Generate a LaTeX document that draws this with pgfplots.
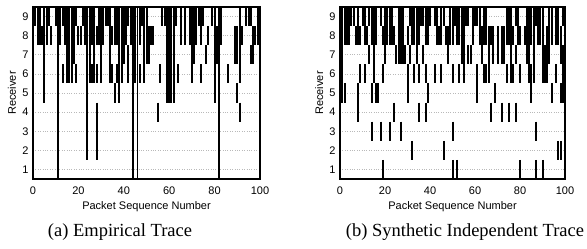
\documentclass[border=0pt]{standalone}
\usepackage{fontspec}
\setmainfont{Liberation Serif}
\newfontfamily\hv{Liberation Sans}
\usepackage{pgfplots}
\pgfplotsset{compat=1.18}
\begin{document}
\begin{tikzpicture}
\pgfplotsset{
  rast/.style={
    scale only axis, height=172pt,
    xmin=0, xmax=100, ymin=0.5, ymax=9.5,
    xtick={0,20,...,100}, ytick={1,...,9},
    ymajorgrids, grid style={dotted, gray!55, line width=0.7pt},
    major tick length=0pt,
    clip mode=individual,
    tick label style={font=\hv\fontsize{11}{12}\selectfont},
    /pgf/number format/assume math mode=true,
    label style={font=\hv\fontsize{11}{12}\selectfont},
    xlabel={Packet Sequence Number}, ylabel={Receiver},
    xlabel style={at={(axis description cs:0.5,-0.16)}, anchor=center},
    ylabel style={at={(axis description cs:-0.0925,0.5)}, anchor=center},
    xticklabel style={yshift=-4pt}, yticklabel style={xshift=-1pt},
  },
  lb/.style={only marks, mark=|, mark size=9.56pt, mark options={black, line width=2.0pt}},
  fl/.style={only marks, mark=|, mark size=86pt, mark options={black, line width=1.6pt}},
}
\path[use as bounding box] (0,0) rectangle (587pt,249pt);

% (a) Empirical trace
\begin{axis}[rast, width=227pt, at={(33pt,70pt)}, anchor=south west]
\addplot[lb] coordinates {(1,9)(2,9)(3,9)(5,9)(6,9)(7,9)(10,9)(12,9)(13,9)(14,9)(15,9)(16,9)(17,9)(18,9)(19,9)(22,9)(23,9)(24,9)(25,9)(26,9)(27,9)(29,9)(30,9)(31,9)(32,9)(33,9)(34,9)(36,9)(37,9)(38,9)(39,9)(40,9)(41,9)(42,9)(43,9)(45,9)(47,9)(48,9)(49,9)(50,9)(57,9)(58,9)(59,9)(60,9)(61,9)(62,9)(63,9)(65,9)(67,9)(69,9)(70,9)(71,9)(72,9)(73,9)(74,9)(75,9)(79,9)(80,9)(83,9)(91,9)(94,9)(95,9)(96,9)(99,9)};
\addplot[lb] coordinates {(2,8)(3,8)(4,8)(5,8)(6,8)(8,8)(12,8)(14,8)(15,8)(16,8)(17,8)(18,8)(20,8)(21,8)(23,8)(24,8)(25,8)(26,8)(27,8)(28,8)(29,8)(30,8)(31,8)(34,8)(35,8)(36,8)(37,8)(38,8)(39,8)(40,8)(41,8)(43,8)(45,8)(47,8)(49,8)(50,8)(51,8)(52,8)(53,8)(59,8)(60,8)(61,8)(62,8)(65,8)(67,8)(69,8)(70,8)(71,8)(72,8)(74,8)(77,8)(80,8)(81,8)(83,8)(89,8)(90,8)(91,8)(92,8)(97,8)(98,8)(99,8)};
\addplot[lb] coordinates {(5,7)(15,7)(16,7)(17,7)(18,7)(24,7)(25,7)(27,7)(30,7)(34,7)(38,7)(39,7)(40,7)(42,7)(45,7)(49,7)(50,7)(51,7)(59,7)(60,7)(61,7)(62,7)(70,7)(71,7)(76,7)(80,7)(81,7)(89,7)(90,7)(91,7)(96,7)(97,7)};
\addplot[lb] coordinates {(5,6)(13,6)(15,6)(16,6)(17,6)(19,6)(24,6)(25,6)(26,6)(27,6)(28,6)(30,6)(34,6)(35,6)(37,6)(38,6)(39,6)(42,6)(45,6)(47,6)(49,6)(56,6)(59,6)(60,6)(61,6)(62,6)(64,6)(70,6)(74,6)(80,6)(86,6)(91,6)};
\addplot[lb] coordinates {(5,5)(24,5)(36,5)(38,5)(59,5)(60,5)(61,5)(62,5)(80,5)(90,5)};
\addplot[lb] coordinates {(24,4)(28,4)(55,4)(91,4)};
\addplot[lb] coordinates {(24,3)(28,3)};
\addplot[lb] coordinates {(24,2)(28,2)};
\addplot[fl] coordinates {(11,5)(44,5)(46,5)(82,5)};
\draw[line width=2.8pt] (rel axis cs:0,0) rectangle (rel axis cs:1,1);
\end{axis}

% (b) Synthetic independent trace
\begin{axis}[rast, width=225pt, at={(340pt,70pt)}, anchor=south west]
\addplot[lb] coordinates {(1,9)(2,9)(3,9)(4,9)(5,9)(6,9)(8,9)(10,9)(11,9)(13,9)(14,9)(15,9)(16,9)(18,9)(20,9)(21,9)(22,9)(23,9)(26,9)(27,9)(28,9)(31,9)(32,9)(33,9)(34,9)(35,9)(36,9)(37,9)(38,9)(39,9)(40,9)(42,9)(43,9)(45,9)(46,9)(49,9)(50,9)(51,9)(52,9)(53,9)(54,9)(55,9)(56,9)(57,9)(59,9)(60,9)(61,9)(62,9)(64,9)(65,9)(74,9)(75,9)(76,9)(78,9)(79,9)(83,9)(84,9)(85,9)(86,9)(87,9)(88,9)(89,9)(90,9)(93,9)(94,9)(96,9)(97,9)(99,9)(100,9)};
\addplot[lb] coordinates {(1,8)(2,8)(3,8)(4,8)(7,8)(8,8)(9,8)(11,8)(12,8)(14,8)(15,8)(16,8)(19,8)(20,8)(21,8)(22,8)(23,8)(24,8)(26,8)(27,8)(28,8)(30,8)(32,8)(33,8)(34,8)(35,8)(38,8)(39,8)(43,8)(44,8)(45,8)(47,8)(48,8)(49,8)(50,8)(52,8)(53,8)(54,8)(55,8)(59,8)(62,8)(63,8)(64,8)(65,8)(66,8)(67,8)(68,8)(70,8)(72,8)(73,8)(74,8)(75,8)(76,8)(77,8)(79,8)(80,8)(82,8)(83,8)(84,8)(85,8)(86,8)(88,8)(89,8)(90,8)(92,8)(93,8)(94,8)(96,8)(97,8)(98,8)(100,8)};
\addplot[lb] coordinates {(1,7)(13,7)(15,7)(20,7)(25,7)(26,7)(27,7)(28,7)(29,7)(31,7)(34,7)(37,7)(48,7)(54,7)(55,7)(57,7)(58,7)(63,7)(66,7)(68,7)(70,7)(72,7)(73,7)(76,7)(78,7)(83,7)(84,7)(86,7)(90,7)(91,7)(92,7)(93,7)(98,7)(99,7)};
\addplot[lb] coordinates {(1,6)(9,6)(11,6)(15,6)(19,6)(30,6)(33,6)(35,6)(38,6)(42,6)(45,6)(50,6)(53,6)(55,6)(61,6)(64,6)(65,6)(66,6)(74,6)(76,6)(77,6)(80,6)(84,6)(85,6)(86,6)(90,6)(91,6)(92,6)(96,6)(99,6)(100,6)};
\addplot[lb] coordinates {(1,5)(2,5)(8,5)(14,5)(16,5)(17,5)(30,5)(39,5)(61,5)(69,5)(85,5)(94,5)(98,5)(99,5)};
\addplot[lb] coordinates {(8,4)(24,4)(35,4)(38,4)(67,4)(72,4)(75,4)(78,4)};
\addplot[lb] coordinates {(14,3)(18,3)(22,3)(27,3)(50,3)(87,3)};
\addplot[lb] coordinates {(32,2)(46,2)(97,2)(98,2)};
\addplot[lb] coordinates {(19,1)(50,1)(52,1)(80,1)(87,1)(90,1)};
\draw[line width=2.8pt] (rel axis cs:0,0) rectangle (rel axis cs:1,1);
\end{axis}

\node[font=\fontsize{18.5}{20}\selectfont] at (120pt,17pt) {(a) Empirical Trace};
\node[font=\fontsize{18.5}{20}\selectfont] at (465pt,17pt) {(b) Synthetic Independent Trace};
\end{tikzpicture}
\end{document}
